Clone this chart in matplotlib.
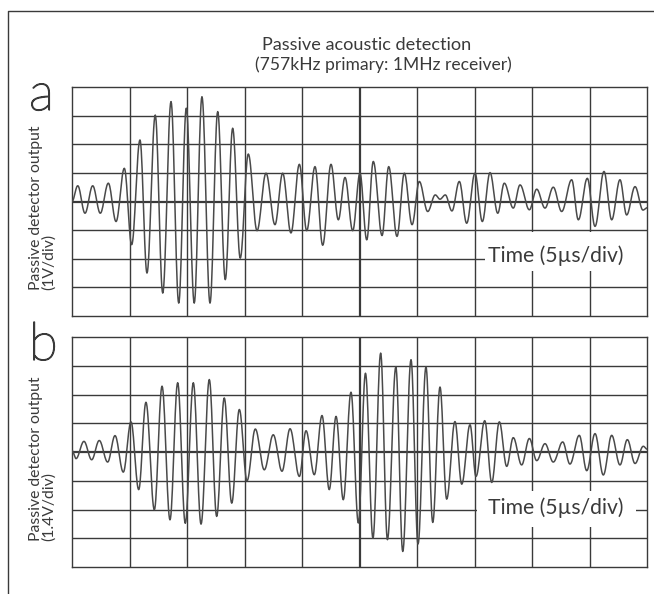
import matplotlib.pyplot as plt
import matplotlib.patheffects as pe
from matplotlib.patches import Rectangle
import numpy as np

# Extrema of the two traces:
# time in microseconds (5 us/div), level in screen divisions.
t_a = [0.0, 0.50, 1.13, 1.80, 2.46, 3.16, 3.83, 4.55, 5.19, 5.91, 6.52, 7.24,
       7.89, 8.61, 9.28, 9.94, 10.63, 11.30, 12.00, 12.67, 13.33, 13.97,
       14.63, 15.33, 16.09, 16.87, 17.65, 18.32, 19.04, 19.77, 20.41, 21.13,
       21.80, 22.52, 23.16, 23.74, 24.41, 25.04, 25.63, 26.20, 26.96, 27.54,
       28.26, 28.90, 29.57, 30.20, 30.93, 31.59, 32.00, 32.46, 33.04, 33.68,
       34.32, 35.04, 35.68, 36.35, 37.02, 37.59, 38.37, 38.96, 39.77, 40.41,
       41.13, 41.85, 42.58, 43.45, 44.03, 44.81, 45.48, 46.26, 46.93, 47.65,
       48.23, 48.96, 49.65, 50.0]
v_a = [0.0, 0.55, -0.41, 0.55, -0.41, 0.64, -0.70, 1.16, -1.51, 2.15, -2.50,
       3.02, -3.20, 3.49, -3.55, 3.26, -3.55, 3.66, -3.55, 3.14, -2.73, 2.56,
       -1.98, 1.66, -1.02, 0.99, -0.81, 0.99, -1.10, 1.30, -1.02, 1.22, -1.53,
       1.30, -0.64, 0.84, -1.02, 0.99, -1.34, 1.40, -1.19, 1.22, -1.22, 0.99,
       -0.81, 0.70, -0.35, 0.23, 0.08, 0.23, -0.33, 0.70, -0.76, 0.99, -0.70,
       1.01, -0.41, 0.64, -0.23, 0.58, -0.29, 0.43, -0.23, 0.50, -0.35, 0.76,
       -0.64, 0.81, -0.87, 1.05, -0.64, 0.76, -0.47, 0.52, -0.30, -0.22]

t_b = [0.0, 0.35, 1.04, 1.71, 2.37, 3.10, 3.74, 4.46, 5.13, 5.80, 6.43, 7.16,
       7.83, 8.52, 9.19, 9.85, 10.55, 11.22, 11.94, 12.58, 13.24, 13.89,
       14.55, 15.22, 15.94, 16.72, 17.50, 18.26, 18.96, 19.77, 20.35, 21.07,
       21.74, 22.37, 22.96, 23.59, 24.26, 24.90, 25.52, 26.17, 26.84, 27.43,
       28.16, 28.76, 29.48, 30.09, 30.78, 31.37, 32.00, 32.58, 33.30, 33.89,
       34.61, 35.13, 35.89, 36.50, 37.16, 37.80, 38.37, 39.10, 39.77, 40.41,
       41.13, 41.85, 42.67, 43.30, 44.11, 44.76, 45.48, 46.20, 46.93, 47.65,
       48.29, 48.96, 49.68, 50.0]
v_b = [0.05, -0.23, 0.37, -0.27, 0.40, -0.35, 0.57, -0.70, 1.05, -1.31, 1.73,
       -2.01, 2.29, -2.36, 2.41, -2.48, 2.41, -2.51, 2.52, -2.24, 1.88, -1.78,
       1.48, -1.00, 0.80, -0.62, 0.60, -0.67, 0.81, -0.85, 0.74, -0.79, 1.27,
       -1.31, 1.24, -1.66, 2.08, -2.47, 2.74, -3.00, 3.44, -3.05, 2.96, -3.46,
       3.21, -3.20, 2.96, -2.45, 2.26, -1.64, 1.06, -1.12, 0.95, -0.85, 1.09,
       -1.06, 1.05, -0.50, 0.50, -0.45, 0.47, -0.30, 0.29, -0.35, 0.35, -0.42,
       0.58, -0.65, 0.64, -0.80, 0.58, -0.45, 0.43, -0.40, 0.20, 0.10]

title_1 = "Passive acoustic detection"
title_2 = "(757kHz primary: 1MHz receiver)"
ylabel = "Passive detector output"
scale_a = "(1V/div)"
scale_b = "(1.4V/div)"
xlabel = "Time (5\u00b5s/div)"


def trace(t, v, n=16):
    """Join successive extrema with half-cosine arcs."""
    xs, ys = [], []
    for i in range(len(t) - 1):
        s = np.linspace(0, 1, n, endpoint=False)
        xs.append(t[i] + (t[i + 1] - t[i]) * s)
        ys.append(v[i] + (v[i + 1] - v[i]) * (1 - np.cos(np.pi * s)) / 2)
    xs.append([t[-1]])
    ys.append([v[-1]])
    return np.concatenate(xs), np.concatenate(ys)


plt.rcParams['font.family'] = ['Lato', 'DejaVu Sans']
ink = '#3a3a3a'
W, H = 654, 594
fig = plt.figure(figsize=(W / 100, H / 100), dpi=100)

# full-figure layer in pixel units for the frame and loose texts
bg = fig.add_axes([0, 0, 1, 1])
bg.set_xlim(0, W)
bg.set_ylim(H, 0)
bg.axis('off')
bg.plot([8, 8, W], [H, 11, 11], color=ink, lw=1.0)
bg.text(262, 45, title_1, fontsize=13.1, color=ink, va='center', ha='left')
bg.text(255, 65, title_2, fontsize=12.6, color=ink, va='center', ha='left')


def panel(top, bottom, t, v, letter, scale, time_y, box):
    ax = fig.add_axes([72 / W, 1 - bottom / H, 575 / W, (bottom - top) / H])
    ax.set_xlim(0, 50)
    ax.set_ylim(-4, 4)
    for x in range(5, 50, 5):
        ax.axvline(x, color=ink, lw=1.6 if x == 25 else 1.0, zorder=1)
    for y in range(-3, 4):
        ax.axhline(y, color=ink, lw=1.6 if y == 0 else 1.0, zorder=1)
    for sp in ax.spines.values():
        sp.set_color(ink)
        sp.set_linewidth(1.0)
    ax.set_xticks([])
    ax.set_yticks([])

    x0, x1, y0, y1 = box
    ax.add_patch(Rectangle((x0, y0), x1 - x0, y1 - y0, fc='white', ec='none',
                           zorder=2))
    ax.text(36.2, time_y, xlabel, fontsize=15.2, color=ink, va='center',
            ha='left', zorder=4)

    xs, ys = trace(t, v)
    ax.plot(xs, ys, color='#4a4a4a', lw=1.1, zorder=3)

    bg.text(29, top + 23, letter, fontsize=38, fontweight='light', color=ink,
            ha='left', va='baseline',
            path_effects=[pe.withStroke(linewidth=1.0, foreground=ink)])
    bg.text(36, bottom - 26, ylabel, fontsize=11.3, color=ink, rotation=90,
            rotation_mode='anchor', ha='left', va='center')
    bg.text(49, bottom - 26, scale, fontsize=11.3, color=ink, rotation=90,
            rotation_mode='anchor', ha='left', va='center')
    return ax


panel(87, 316, t_a, v_a, 'a', scale_a, -1.91, (35.9, 50.0, -2.44, -1.05))
panel(337, 567, t_b, v_b, 'b', scale_b, -1.95, (35.2, 49.0, -2.61, -1.36))

fig.savefig('out.png', dpi=100)
